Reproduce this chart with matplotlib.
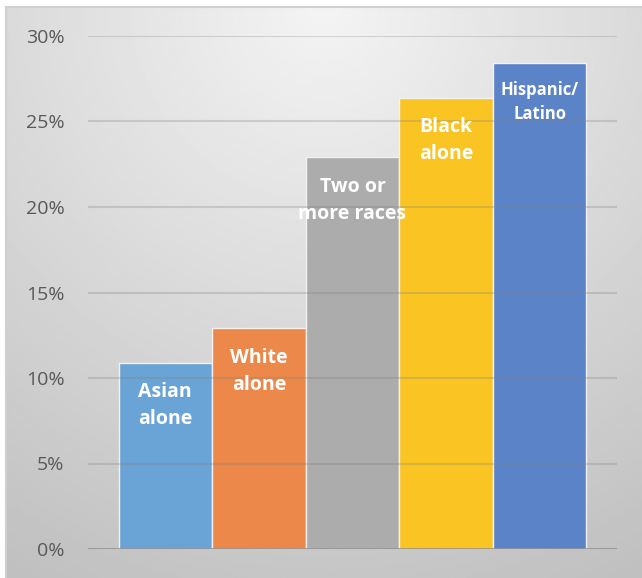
import numpy as np
import matplotlib.pyplot as plt
from matplotlib.ticker import FuncFormatter

categories = ['Asian\nalone', 'White\nalone', 'Two or\nmore races', 'Black\nalone', 'Hispanic/\nLatino']
values = [10.9, 12.9, 22.9, 26.4, 28.4]
colors = ['#6aa3d6', '#eb884a', '#acacac', '#fac423', '#5b83c7']
yticks = [0, 5, 10, 15, 20, 25, 30]

W, H = 642, 578
fig = plt.figure(figsize=(W / 100, H / 100), dpi=100)
fig.patch.set_facecolor('white')

# gradient background of the chart area
bg = fig.add_axes([6 / W, 0, 1 - 6 / W, 1 - 7 / H], zorder=0)
yy, xx = np.mgrid[0:1:300j, 0:1:300j]
r = np.sqrt(((xx - 0.5) * 1.0) ** 2 + ((yy - 0.0) * 0.9) ** 2)
shade = np.clip(0.955 - 0.2 * r, 0.75, 1.0)
bg.imshow(shade, cmap='gray', vmin=0, vmax=1, aspect='auto', extent=[0, 1, 1, 0])
bg.set_xlim(0, 1)
bg.set_ylim(1, 0)
bg.set_xticks([])
bg.set_yticks([])
for s in ['right', 'bottom']:
    bg.spines[s].set_visible(False)
for s in ['left', 'top']:
    bg.spines[s].set_color('#d0d0d0')
    bg.spines[s].set_linewidth(1.5)

ax = fig.add_axes([88 / W, 1 - 549 / H, (617 - 88) / W, (549 - 36) / H], zorder=1)
ax.patch.set_alpha(0)

x = np.arange(len(values))
bars = ax.bar(x, values, width=1.0, color=colors, edgecolor='#f2f2f2', linewidth=1.0, zorder=2)

for v in yticks[1:]:
    ax.axhline(v, color='#808080', alpha=0.28, linewidth=1.5, zorder=3)
ax.axhline(0, color='#8c8c8c', linewidth=1.8, zorder=4)

ax.set_ylim(0, 30)
ax.set_xlim(-0.826, 4.826)
ax.set_yticks(yticks)
ax.yaxis.set_major_formatter(FuncFormatter(lambda v, p: '%d%%' % v))
ax.tick_params(axis='y', length=0, pad=17, labelsize=14, labelcolor='#595959')
ax.set_xticks([])
for s in ax.spines.values():
    s.set_visible(False)
for lab in ax.get_yticklabels():
    lab.set_family('Open Sans')

for i, (b, lab) in enumerate(zip(bars, categories)):
    size = 12 if i == 4 else 14
    off = -28 if i == 4 else -31
    ax.annotate(lab, (b.get_x() + b.get_width() / 2, b.get_height()),
                xytext=(0, off), textcoords='offset points', ha='center', va='center',
                color='white', fontsize=size, fontweight='bold', family='Open Sans',
                linespacing=1.45, zorder=5)

fig.savefig('out.png', dpi=100)
